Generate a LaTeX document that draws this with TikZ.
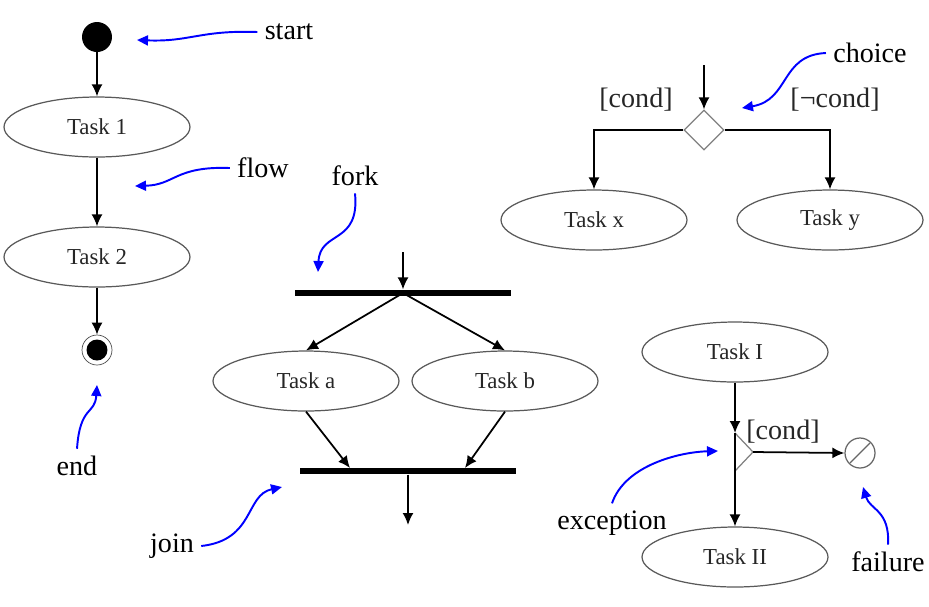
\documentclass[tikz,border=0pt]{standalone}
\usepackage{fontspec}
\setmainfont{Liberation Serif}
\usetikzlibrary{shapes.geometric,arrows.meta}

\begin{document}
\begin{tikzpicture}[
		x=0.02cm, y=-0.02cm,
		task/.style={
			draw=black!65,
			line width=0.7pt,
			ellipse,
			minimum width=3.72cm,
			minimum height=1.2cm,
			inner sep=0,
			text=black!85,
			font=\fontsize{13}{15}\selectfont
		},
		startdot/.style={circle,fill=black,minimum size=0.6cm,inner sep=0},
		endring/.style={circle,draw=black!70,minimum size=0.6cm,inner sep=0},
		enddot/.style={circle,fill=black,minimum size=0.42cm,inner sep=0},
		bar/.style={fill=black,minimum width=4.34cm,minimum height=0.13cm,inner sep=0},
		choicebox/.style={diamond,draw=black!50,line width=0.7pt,aspect=1,minimum size=0.8cm,inner sep=0},
		gate/.style={draw=black!50,line width=0.7pt},
		failnode/.style={circle,draw=black!60,line width=0.7pt,minimum size=0.6cm,inner sep=0,
			path picture={\draw[black!60,line width=0.7pt] ([shift={(-10,10)}]path picture bounding box.center)
				-- ([shift={(10,-10)}]path picture bounding box.center);}
		},
		guard/.style={font=\fontsize{16}{18}\selectfont,text=black!85,inner sep=1pt},
		anno/.style={font=\fontsize{16}{18}\selectfont,inner sep=4pt},
		flow/.style={->,line width=1pt},
		pointer/.style={-{Triangle[length=2.2mm,width=2mm]},blue,line width=1.1pt},
		>={Latex[length=2.4mm,width=2.2mm]}
		]
		\useasboundingbox (0,0) rectangle (929,606);
		% Start -> Task 1 -> Task 2 -> End
		\node[startdot] (start) at (97,37) {};
		\node[task] (t1) at (97,127) {Task 1};
		\node[task] (t2) at (97,257) {Task 2};
		\node[endring] (end) at (97,350) {};
		\node[enddot] (endc) at (end) {};
		\foreach \a/\b in {start/t1,t1/t2,t2/end}
			\draw[flow] (\a) -- (\b);
		% Fork
		\coordinate (forkin) at (403,252);
		\node[bar] (fork) at (403,293) {};
		\node[task] (ta) at (306,381) {Task a};
		\node[task] (tb) at (505,381) {Task b};
		\draw[flow] (forkin) -- (fork.north);
		\foreach \t in {ta,tb}
			\draw[flow] (fork.center) -- (\t.north);
		% Join
		\node[bar] (join) at (408,471) {};
		\coordinate (ja) at (350,468);
		\coordinate (jb) at (465,468);
		\coordinate (joinout) at (408,525);
		\draw[flow] (ta.south) -- (ja);
		\draw[flow] (tb.south) -- (jb);
		\draw[flow] (join.south) -- (joinout);
		% Choice
		\coordinate (choicein) at (704,65);
		\node[choicebox] (choice) at (704,130) {};
		\node[task] (tx) at (594,220) {Task x};
		\node[task] (ty) at (830,220) {Task y};
		\draw[flow] (choicein) -- (choice.north);
		\draw[flow] (choice.west) -| (tx.north);
		\draw[flow] (choice.east) -| (ty.north);
		\node[guard] (gx) at (636,100) {[cond]};
		\node[guard] (gy) at (835,100) {[¬cond]};
		% Exception
		\node[task] (tI) at (735,352) {Task I};
		\node[task] (tII) at (735,557) {Task II};
		\coordinate (xtop) at (735,433);
		\coordinate (xtip) at (753,452);
		\coordinate (xbot) at (735,471);
		\draw[gate] (xtop) -- (xtip) -- (xbot);
		\draw[flow] (tI.south) -- (xtop);
		\draw[flow] (xtop) -- (tII.north);
		\node[failnode] (fail) at (860,453) {};
		\draw[flow] (xtip) -- (fail.west);
		\node[guard] (gI) at (783,432) {[cond]};
		% Annotations
		\node[anno] (lstart) at (289,32) {start};
		\node[anno] (lflow) at (263,168) {flow};
		\node[anno] (lend) at (77,466) {end};
		\node[anno] (lfork) at (355,176) {fork};
		\node[anno] (ljoin) at (172,546) {join};
		\node[anno] (lchoice) at (870,53) {choice};
		\node[anno] (lexc) at (612,523) {exception};
		\node[anno] (lfail) at (888,562) {failure};
		\coordinate (pstart) at (137,40);
		\coordinate (pflow) at (135,186);
		\coordinate (pend) at (97,385);
		\coordinate (pfork) at (318,272);
		\coordinate (pjoin) at (282,487);
		\coordinate (pchoice) at (742,108);
		\coordinate (pexc) at (718,451);
		\coordinate (pfail) at (863,487);
		\draw[pointer] (lstart.west) .. controls (200,30) and (190,42) .. (pstart);
		\draw[pointer] (lflow.west) .. controls (175,166) and (175,185) .. (pflow);
		\draw[pointer] (lend.north) .. controls (80,405) and (95,415) .. (pend);
		\draw[pointer] (lfork.south) .. controls (360,245) and (320,230) .. (pfork);
		\draw[pointer] (ljoin.east) .. controls (255,540) and (245,495) .. (pjoin);
		\draw[pointer] (lchoice.west) .. controls (780,55) and (790,100) .. (pchoice);
		\draw[pointer] (lexc.north) .. controls (625,465) and (680,452) .. (pexc);
		\draw[pointer] (lfail.north) .. controls (890,510) and (870,510) .. (pfail);
\end{tikzpicture}
\end{document}
